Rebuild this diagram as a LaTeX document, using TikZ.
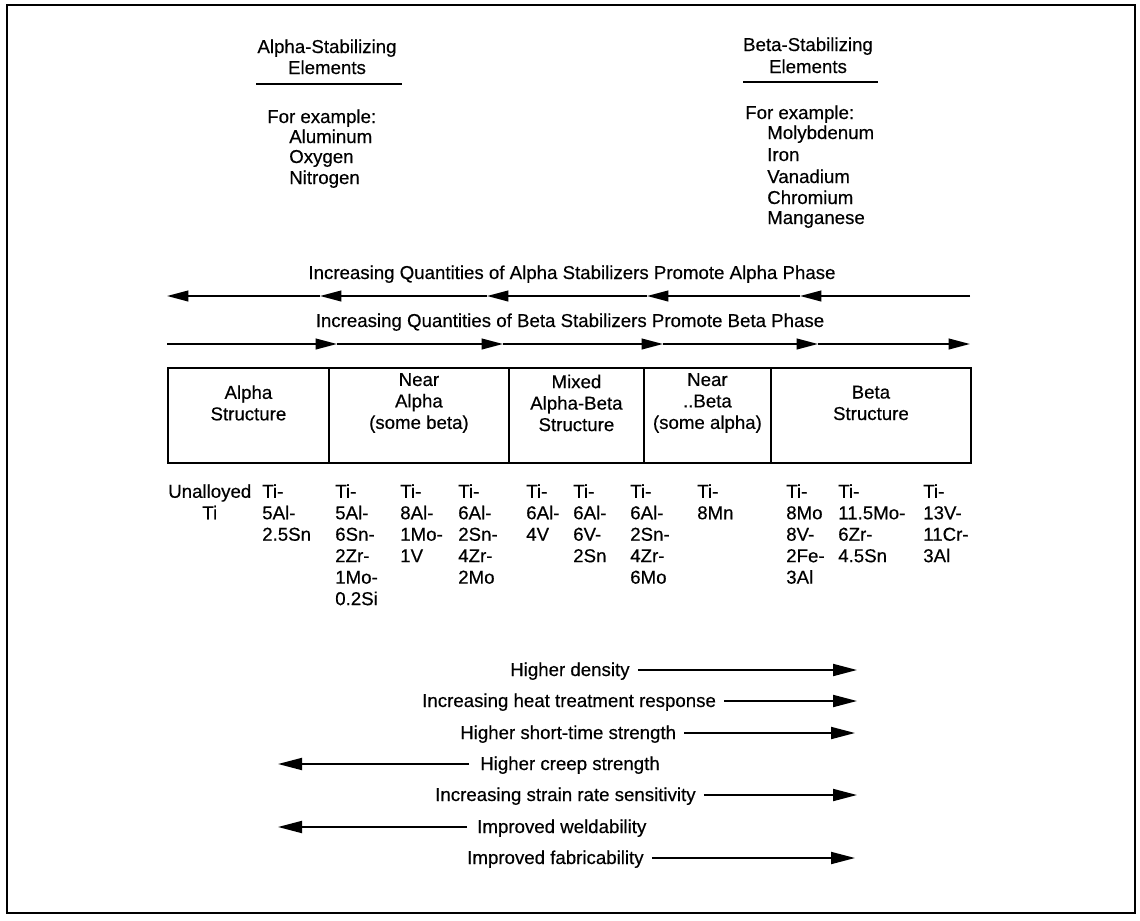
\documentclass[tikz,border=0pt]{standalone}
\usepackage{fontspec}
\setmainfont{Liberation Sans}[FakeBold=0.4]
\usetikzlibrary{arrows.meta,calc}
\begin{document}
\begin{tikzpicture}[x=0.75pt,y=-0.75pt,
  every node/.style={inner sep=0pt, font=\fontsize{14pt}{16.1pt}\selectfont},
  txt/.style={anchor=base},
  ltxt/.style={anchor=base west},
  cell/.style={draw, line width=1.4pt, minimum height=71.25pt, anchor=north west},
  phase/.style={line width=1.4pt, -{Triangle[length=16pt,width=8pt]}},
  prop/.style={line width=1.4pt, -{Triangle[length=18pt,width=9pt]}},
  col/.style={anchor=north west, align=left},
  ccol/.style={anchor=north west, align=center},
  rule/.style={line width=1.4pt}
]
\useasboundingbox (0,0) rectangle (1140,921);
\draw[line width=2pt] (7,5) rectangle (1135,913);

% Alpha stabilizing block
\node[txt] (as1) at (327,53) {Alpha-Stabilizing};
\node[txt] (as2) at (327,74) {Elements};
\coordinate (ula) at (256,84); \coordinate (ulb) at (402,84);
\draw[rule] (ula) -- (ulb);
\node[ltxt] (afe) at (267,123) {For example:};
\node[ltxt] (al1) at (289,143) {Aluminum};
\node[ltxt] (al2) at (289,163) {Oxygen};
\node[ltxt] (al3) at (289,184) {Nitrogen};

% Beta stabilizing block
\node[txt] (bs1) at (808,51) {Beta-Stabilizing};
\node[txt] (bs2) at (808,73) {Elements};
\coordinate (ubl) at (743,82); \coordinate (ubr) at (878,82);
\draw[rule] (ubl) -- (ubr);
\node[ltxt] (bfe) at (745,119) {For example:};
\node[ltxt] (be1) at (767,139) {Molybdenum};
\node[ltxt] (be2) at (767,161) {Iron};
\node[ltxt] (be3) at (767,183) {Vanadium};
\node[ltxt] (be4) at (767,204) {Chromium};
\node[ltxt] (be5) at (767,224) {Manganese};

% Phase arrows
\node[txt] (pa) at (572,279) {Increasing Quantities of Alpha Stabilizers Promote Alpha Phase};
\coordinate (p0) at (970,296);
\coordinate (p1) at (800,296);
\coordinate (p2) at (647,296);
\coordinate (p3) at (487,296);
\coordinate (p4) at (320,296);
\coordinate (p5) at (167,296);
\draw[phase] (p0) -- (p1);
\draw[phase] (p1) -- (p2);
\draw[phase] (p2) -- (p3);
\draw[phase] (p3) -- (p4);
\draw[phase] (p4) -- (p5);

\node[txt] (pb) at (570,327) {Increasing Quantities of Beta Stabilizers Promote Beta Phase};
\coordinate (q0) at (167,344);
\coordinate (q1) at (337,344);
\coordinate (q2) at (503,344);
\coordinate (q3) at (663,344);
\coordinate (q4) at (818,344);
\coordinate (q5) at (970,344);
\draw[phase] (q0) -- (q1);
\draw[phase] (q1) -- (q2);
\draw[phase] (q2) -- (q3);
\draw[phase] (q3) -- (q4);
\draw[phase] (q4) -- (q5);

% Structure cells
\node[cell, minimum width=120.75pt] (c1) at (167,367) {};
\node[cell, minimum width=135pt] (c2) at (328,367) {};
\node[cell, minimum width=101.25pt] (c3) at (508,367) {};
\node[cell, minimum width=95.25pt] (c4) at (643,367) {};
\node[cell, minimum width=150pt] (c5) at (770,367) {};
\node[align=center] (l1) at ($(c1.center)+(0,-12.5)$) {Alpha\\Structure};
\node[align=center] (l2) at ($(c2.center)+(0,-12.5)$) {Near\\Alpha\\(some beta)};
\node[align=center] (l3) at ($(c3.center)+(0,-12.5)$) {Mixed\\Alpha-Beta\\Structure};
\node[align=center] (l4) at ($(c4.center)+(0,-12.5)$) {Near\\..Beta\\(some alpha)};
\node[align=center] (l5) at ($(c5.center)+(0,-12.5)$) {Beta\\Structure};

% Alloys
\node[ccol] (k1) at (168,484) {Unalloyed\\Ti};
\node[col] (k2) at (262,484) {Ti-\\5Al-\\2.5Sn};
\node[col] (k3) at (335,484) {Ti-\\5Al-\\6Sn-\\2Zr-\\1Mo-\\0.2Si};
\node[col] (k4) at (400,484) {Ti-\\8Al-\\1Mo-\\1V};
\node[col] (k5) at (458,484) {Ti-\\6Al-\\2Sn-\\4Zr-\\2Mo};
\node[col] (k6) at (526,484) {Ti-\\6Al-\\4V};
\node[col] (k7) at (573,484) {Ti-\\6Al-\\6V-\\2Sn};
\node[col] (k8) at (630,484) {Ti-\\6Al-\\2Sn-\\4Zr-\\6Mo};
\node[col] (k9) at (697,484) {Ti-\\8Mn};
\node[col] (k10) at (786,484) {Ti-\\8Mo\\8V-\\2Fe-\\3Al};
\node[col] (k11) at (838,484) {Ti-\\11.5Mo-\\6Zr-\\4.5Sn};
\node[col] (k12) at (923,484) {Ti-\\13V-\\11Cr-\\3Al};

% Property arrows
\coordinate (e1) at (857,670);
\coordinate (e2) at (857,701);
\coordinate (e3) at (855,733);
\coordinate (e4) at (278,764);
\coordinate (e5) at (857,795);
\coordinate (e6) at (278,827);
\coordinate (e7) at (855,858);
\node[ltxt] (t1) at (510,676) {Higher density};
\node[ltxt] (t2) at (422,707) {Increasing heat treatment response};
\node[ltxt] (t3) at (460,739) {Higher short-time strength};
\node[ltxt] (t4) at (480,770) {Higher creep strength};
\node[ltxt] (t5) at (435,801) {Increasing strain rate sensitivity};
\node[ltxt] (t6) at (477,833) {Improved weldability};
\node[ltxt] (t7) at (467,864) {Improved fabricability};
\draw[prop] ($(t1.east |- e1)+(8,0)$) -- (e1);
\draw[prop] ($(t2.east |- e2)+(8,0)$) -- (e2);
\draw[prop] ($(t3.east |- e3)+(8,0)$) -- (e3);
\draw[prop] ($(t4.west |- e4)+(-11,0)$) -- (e4);
\draw[prop] ($(t5.east |- e5)+(8,0)$) -- (e5);
\draw[prop] ($(t6.west |- e6)+(-10,0)$) -- (e6);
\draw[prop] ($(t7.east |- e7)+(8,0)$) -- (e7);
\end{tikzpicture}
\end{document}
